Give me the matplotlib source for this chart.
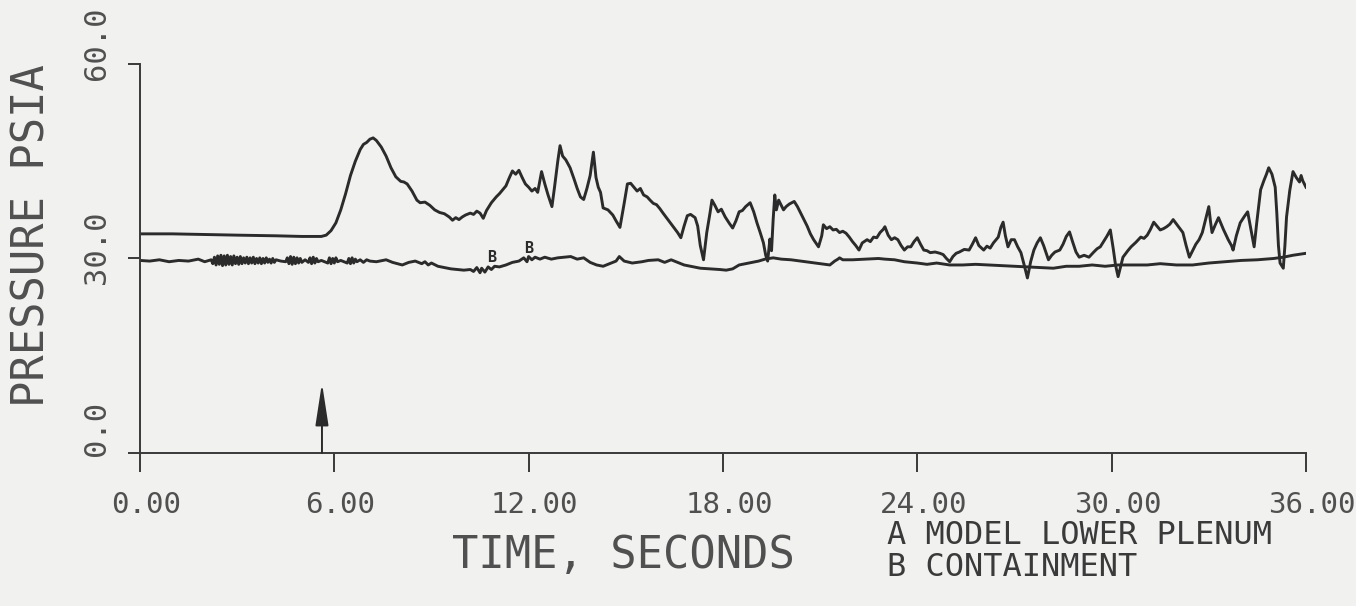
import matplotlib
matplotlib.use("Agg")
import matplotlib.pyplot as plt
from matplotlib.transforms import ScaledTranslation

# Time (s) and pressure (psia) for curve A: model lower plenum
time_a = [
    0.0, 1.0, 2.0, 3.0, 4.2, 5.0, 5.6, 5.75, 5.9, 6.05, 6.2, 6.35, 6.5, 6.65, 6.8, 6.9,
    7.0, 7.1, 7.2, 7.3, 7.45, 7.6, 7.75, 7.9, 8.05, 8.15, 8.25, 8.4, 8.55, 8.65, 8.8,
    8.95, 9.1, 9.25, 9.4, 9.55, 9.65, 9.75, 9.85, 9.95, 10.05, 10.2, 10.3, 10.4, 10.5,
    10.6, 10.7, 10.85, 11.0, 11.1, 11.2, 11.3, 11.4, 11.5, 11.6, 11.7, 11.8, 11.9, 12.0,
    12.1, 12.2, 12.28, 12.4, 12.5, 12.6, 12.72, 12.8, 12.9, 12.97, 13.05, 13.15, 13.28,
    13.4, 13.5, 13.6, 13.7, 13.8, 13.9, 14.0, 14.08, 14.15, 14.22, 14.3, 14.45, 14.6,
    14.7, 14.82, 14.95, 15.05, 15.15, 15.25, 15.35, 15.45, 15.55, 15.66, 15.75, 15.85,
    15.95, 16.05, 16.15, 16.3, 16.45, 16.6, 16.7, 16.8, 16.9, 17.0, 17.14, 17.22, 17.3,
    17.4, 17.5, 17.6, 17.66, 17.75, 17.85, 17.95, 18.07, 18.2, 18.3, 18.4, 18.5, 18.6,
    18.7, 18.84, 18.95, 19.05, 19.15, 19.25, 19.32, 19.38, 19.45, 19.5, 19.55, 19.6,
    19.65, 19.72, 19.8, 19.87, 19.95, 20.05, 20.2, 20.3, 20.4, 20.5, 20.6, 20.7, 20.8,
    20.95, 21.05, 21.1, 21.2, 21.3, 21.4, 21.5, 21.6, 21.7, 21.8, 21.9, 22.0, 22.1,
    22.2, 22.3, 22.45, 22.55, 22.65, 22.75, 22.85, 22.95, 23.0, 23.1, 23.2, 23.3, 23.4,
    23.5, 23.6, 23.7, 23.8, 23.9, 24.0, 24.1, 24.2, 24.3, 24.4, 24.55, 24.7, 24.8, 24.9,
    25.0, 25.1, 25.2, 25.3, 25.45, 25.6, 25.7, 25.8, 25.9, 26.05, 26.15, 26.25, 26.35,
    26.5, 26.58, 26.65, 26.72, 26.8, 26.9, 27.0, 27.1, 27.2, 27.3, 27.4, 27.5, 27.6,
    27.7, 27.8, 27.9, 28.05, 28.15, 28.25, 28.4, 28.5, 28.6, 28.7, 28.8, 28.9, 29.0,
    29.15, 29.3, 29.45, 29.55, 29.65, 29.75, 29.85, 29.96, 30.05, 30.12, 30.2, 30.28,
    30.35, 30.5, 30.6, 30.75, 30.9, 31.0, 31.1, 31.2, 31.3, 31.4, 31.5, 31.6, 31.7,
    31.8, 31.9, 32.05, 32.2, 32.3, 32.4, 32.5, 32.6, 32.7, 32.8, 32.9, 33.0, 33.05,
    33.1, 33.2, 33.3, 33.45, 33.6, 33.7, 33.75, 33.85, 33.97, 34.1, 34.2, 34.3, 34.4,
    34.48, 34.6, 34.7, 34.78, 34.85, 34.95, 35.05, 35.1, 35.15, 35.2, 35.3, 35.35,
    35.4, 35.5, 35.6, 35.7, 35.8, 35.85, 35.9, 36.0,
]
pressure_a = [
    33.8, 33.8, 33.7, 33.6, 33.5, 33.4, 33.4, 33.6, 34.3, 35.5, 37.5, 40.0, 42.8, 45.0, 46.8, 47.6,
    47.9, 48.4, 48.6, 48.2, 47.2, 45.8, 44.0, 42.6, 41.9, 41.8, 41.5, 40.4, 39.0, 38.6, 38.7,
    38.2, 37.5, 37.1, 36.9, 36.4, 35.9, 36.3, 36.0, 36.4, 36.7, 37.0, 36.8, 37.3, 37.0,
    36.2, 37.4, 38.6, 39.5, 40.0, 40.6, 41.2, 42.4, 43.5, 43.0, 43.6, 42.5, 41.5, 41.0,
    40.4, 40.8, 40.2, 43.4, 41.5, 39.8, 38.0, 41.0, 45.0, 47.4, 45.8, 45.2, 44.0,
    42.3, 40.8, 39.5, 39.1, 40.8, 42.8, 46.4, 42.5, 41.0, 40.2, 37.8, 37.5, 36.7,
    35.8, 34.8, 38.5, 41.5, 41.6, 41.0, 40.4, 40.8, 39.8, 39.5, 39.0, 38.5,
    38.3, 37.7, 37.0, 36.0, 35.0, 34.0, 33.2, 35.0, 36.6, 36.8, 36.3, 35.0, 32.0,
    29.8, 34.0, 37.0, 39.0, 38.2, 37.2, 37.6, 36.4, 35.4, 34.7, 35.8, 37.2, 37.4,
    38.0, 38.6, 37.2, 35.5, 34.0, 32.4, 30.5, 29.6, 33.0, 31.2, 36.0, 39.8,
    37.5, 39.0, 38.2, 37.5, 38.0, 38.4, 38.8, 38.0, 37.0, 36.0, 35.0, 33.8, 32.9,
    31.8, 33.5, 35.2, 34.6, 34.9, 34.4, 34.5, 34.0, 34.2, 33.9, 33.3, 32.6, 32.0,
    31.3, 32.4, 32.9, 32.6, 33.3, 33.2, 34.0, 34.5, 34.9, 33.6, 32.9, 33.2, 32.9,
    32.0, 31.3, 31.8, 31.8, 32.6, 33.2, 32.2, 31.3, 31.2, 30.9, 31.0, 30.8, 30.6, 30.0,
    29.5, 30.3, 30.8, 31.0, 31.4, 31.3, 32.2, 33.2, 32.0, 31.3, 31.9, 31.6, 32.4,
    33.3, 34.8, 35.6, 33.5, 31.8, 32.9, 32.9, 31.8, 30.9, 29.0, 27.0, 29.5, 31.3,
    32.4, 33.2, 32.0, 29.8, 30.5, 31.0, 31.3, 32.2, 33.4, 34.1, 32.5, 31.0, 30.2,
    30.5, 30.2, 31.0, 31.5, 31.8, 32.6, 33.4, 34.4, 31.5, 29.0, 27.2, 28.8,
    30.2, 31.2, 31.8, 32.5, 33.3, 33.1, 33.6, 34.5, 35.6, 35.0, 34.4, 34.6, 34.9,
    35.3, 36.0, 35.0, 34.0, 32.0, 30.2, 31.2, 32.2, 32.9, 34.0, 36.0, 38.0, 35.8,
    34.0, 35.2, 36.3, 34.5, 32.9, 32.0, 31.3, 33.5, 35.5, 36.5, 37.2, 34.5, 31.8,
    35.5, 40.6, 42.0, 43.0, 44.0, 43.0, 41.0, 37.0, 32.0, 29.3, 28.5, 32.0,
    36.4, 40.5, 43.4, 42.5, 41.8, 42.8, 42.0, 41.0,
]

# Time (s) and pressure (psia) for curve B: containment
time_b = [
    0.0, 0.3, 0.6, 0.9, 1.2, 1.5, 1.8, 2.0, 2.2,
    2.25, 2.3, 2.35, 2.4, 2.45, 2.5, 2.55, 2.6, 2.65, 2.7, 2.75, 2.8, 2.85, 2.9, 2.95,
    3.0, 3.05, 3.1, 3.15, 3.2, 3.25, 3.3, 3.35, 3.4, 3.45, 3.5, 3.55, 3.6, 3.65, 3.7,
    3.75, 3.8, 3.85, 3.9, 3.95, 4.0, 4.05, 4.1, 4.15, 4.2, 4.35, 4.5,
    4.55, 4.6, 4.65, 4.7, 4.75, 4.8, 4.85, 4.9, 4.95, 5.0, 5.1, 5.2, 5.25, 5.3, 5.35,
    5.4, 5.45, 5.5, 5.6, 5.7, 5.8, 5.85, 5.9, 5.95, 6.0, 6.05, 6.1, 6.2, 6.3, 6.4,
    6.45, 6.5, 6.55, 6.6, 6.65, 6.7, 6.8, 6.9, 7.0, 7.1,
    7.3, 7.6, 7.8, 8.1, 8.3, 8.5, 8.7, 8.8, 8.9, 9.0, 9.2, 9.4, 9.6, 9.8, 10.0, 10.2,
    10.3, 10.4, 10.5, 10.55, 10.65, 10.75, 10.85, 10.95, 11.1, 11.3, 11.5, 11.7, 11.85,
    11.95, 12.0, 12.1, 12.2, 12.35, 12.5, 12.7, 12.9, 13.1, 13.3, 13.5, 13.7, 13.9,
    14.1, 14.3, 14.5, 14.7, 14.8, 14.95, 15.2, 15.5, 15.7, 16.0, 16.2, 16.4, 16.6,
    16.8, 17.0, 17.3, 17.6, 17.9, 18.1, 18.3, 18.5, 18.7, 18.9, 19.1, 19.3, 19.55,
    19.8, 20.1, 20.4, 20.7, 21.0, 21.3, 21.45, 21.55, 21.6, 21.7, 22.0, 22.4, 22.8,
    23.0, 23.3, 23.6, 24.0, 24.3, 24.6, 25.0, 25.4, 25.8, 26.2, 26.6, 27.0, 27.4,
    27.8, 28.2, 28.6, 29.0, 29.4, 29.8, 30.2, 30.6, 31.1, 31.5, 32.0, 32.5, 33.0,
    33.5, 34.0, 34.5, 35.0, 35.3, 35.6, 36.0,
]
pressure_b = [
    29.7, 29.6, 29.8, 29.5, 29.7, 29.6, 29.9, 29.5, 29.8,
    29.2, 30.2, 29.0, 30.4, 29.1, 30.5, 28.9, 30.4, 29.0, 30.5, 29.1, 30.3, 29.0, 30.4, 29.2,
    30.2, 29.1, 30.3, 29.2, 30.1, 29.3, 30.2, 29.2, 30.1, 29.3, 30.2, 29.2, 30.0, 29.3, 30.1,
    29.2, 30.0, 29.3, 30.1, 29.4, 29.9, 29.3, 30.0, 29.4, 29.8, 29.6, 29.5,
    30.1, 29.2, 30.3, 29.1, 30.2, 29.2, 30.1, 29.3, 30.0, 29.4, 29.8, 29.4, 30.1, 29.2, 30.2,
    29.3, 30.0, 29.5, 29.7, 29.5, 29.3, 30.1, 29.2, 30.0, 29.3, 30.1, 29.5, 29.7, 29.5, 29.3,
    30.0, 29.2, 30.1, 29.3, 29.9, 29.5, 29.8, 29.4, 29.8, 29.6,
    29.5, 29.8, 29.4, 29.0, 29.4, 29.6, 29.2, 29.5, 29.0, 29.3, 28.8, 28.6, 28.4, 28.3, 28.2, 28.3,
    28.0, 28.6, 27.8, 28.5, 27.9, 28.7, 28.3, 28.8, 28.7, 29.0, 29.4, 29.6, 30.1,
    29.5, 30.3, 29.8, 30.2, 29.9, 30.2, 29.9, 30.1, 30.2, 30.3, 29.9, 30.1, 29.4,
    29.0, 28.8, 29.2, 29.6, 30.3, 29.6, 29.3, 29.5, 29.7, 29.8, 29.4, 29.8, 29.4,
    29.0, 28.8, 28.5, 28.4, 28.3, 28.2, 28.4, 29.0, 29.2, 29.4, 29.6, 29.9, 30.1,
    29.9, 29.8, 29.6, 29.4, 29.2, 29.0, 29.6, 29.9, 30.1, 29.8, 29.8, 29.9, 30.0,
    29.9, 29.8, 29.5, 29.3, 29.1, 29.3, 29.0, 29.0, 29.1, 29.0, 28.9, 28.8, 28.7,
    28.6, 28.5, 28.8, 28.8, 29.0, 28.8, 29.0, 29.0, 29.0, 29.2, 29.0, 29.0, 29.3,
    29.5, 29.7, 29.8, 30.0, 30.2, 30.5, 30.8,
]

# Curve identification letters placed on curve B
b_marker_times = [10.87, 12.01]
b_marker_values = [30.1, 31.6]

# Event arrow
arrow_time = 5.62
arrow_height = 10.8

x_ticks = [0, 6, 12, 18, 24, 30, 36]
x_tick_labels = ["0.00", "6.00", "12.00", "18.00", "24.00", "30.00", "36.00"]
y_ticks = [0, 30, 60]
y_tick_labels = ["0.0", "30.0", "60.0"]

x_label = "TIME, SECONDS"
y_label = "PRESSURE PSIA"
legend_lines = ["A MODEL LOWER PLENUM", "B CONTAINMENT"]

paper = "#f1f1ef"
ink = "#2b2b2b"
text_ink = "#505050"
mono = "DejaVu Sans Mono"

fig = plt.figure(figsize=(13.56, 6.06), dpi=100, facecolor=paper)
ax = fig.add_axes([0.1032, 0.2525, 0.8599, 0.6419], facecolor=paper)

ax.plot(time_a, pressure_a, color=ink, lw=2.1, solid_joinstyle="round")
ax.plot(time_b, pressure_b, color=ink, lw=2.1, solid_joinstyle="round")

for t, p in zip(b_marker_times, b_marker_values):
    ax.text(t, p, "B", ha="center", va="center", fontsize=11, family=mono,
            color=ink, fontweight="bold")

ax.annotate("", xy=(arrow_time, arrow_height), xytext=(arrow_time, 0),
            arrowprops=dict(arrowstyle="-|>,head_length=1.3,head_width=0.2",
                            mutation_scale=20, lw=1.4, color=ink,
                            shrinkA=0, shrinkB=0))

ax.set_xlim(0, 36)
ax.set_ylim(0, 60)
for side in ("top", "right"):
    ax.spines[side].set_visible(False)
for side in ("left", "bottom"):
    ax.spines[side].set_color("#3a3a3a")
    ax.spines[side].set_linewidth(1.4)

ax.set_xticks(x_ticks, x_tick_labels)
ax.set_yticks(y_ticks, y_tick_labels)
ax.tick_params(axis="x", direction="out", length=13.7, width=1.4, color="#3a3a3a",
               pad=14, labelsize=21, labelcolor=text_ink)
ax.tick_params(axis="y", direction="out", length=8.6, width=1.4, color="#3a3a3a",
               pad=12, labelsize=22, labelcolor=text_ink)
for lab in ax.get_xticklabels():
    lab.set_family(mono)
    lab.set_transform(lab.get_transform() + ScaledTranslation(0.06, 0, fig.dpi_scale_trans))
y_shift_px = {"0.0": 25, "30.0": 11, "60.0": 21}
for lab in ax.get_yticklabels():
    lab.set_family(mono)
    lab.set_rotation(90)
    lab.set_va("center")
    dy = y_shift_px[lab.get_text()] / 100
    lab.set_transform(lab.get_transform() + ScaledTranslation(0, dy, fig.dpi_scale_trans))

W, H = 1356, 606
fig.text(623 / W, 1 - 556 / H, x_label, ha="center", va="center",
         fontsize=31.5, family=mono, color=text_ink)
fig.text(32 / W, 1 - 236 / H, y_label, ha="center", va="center", rotation=90,
         fontsize=31.5, family=mono, color=text_ink)
fig.text(887 / W, 1 - 535 / H, legend_lines[0], ha="left", va="center",
         fontsize=23, family=mono, color="#3a3a3a")
fig.text(887 / W, 1 - 567 / H, legend_lines[1], ha="left", va="center",
         fontsize=23, family=mono, color="#3a3a3a")

fig.savefig("out.png", dpi=100, facecolor=paper)
